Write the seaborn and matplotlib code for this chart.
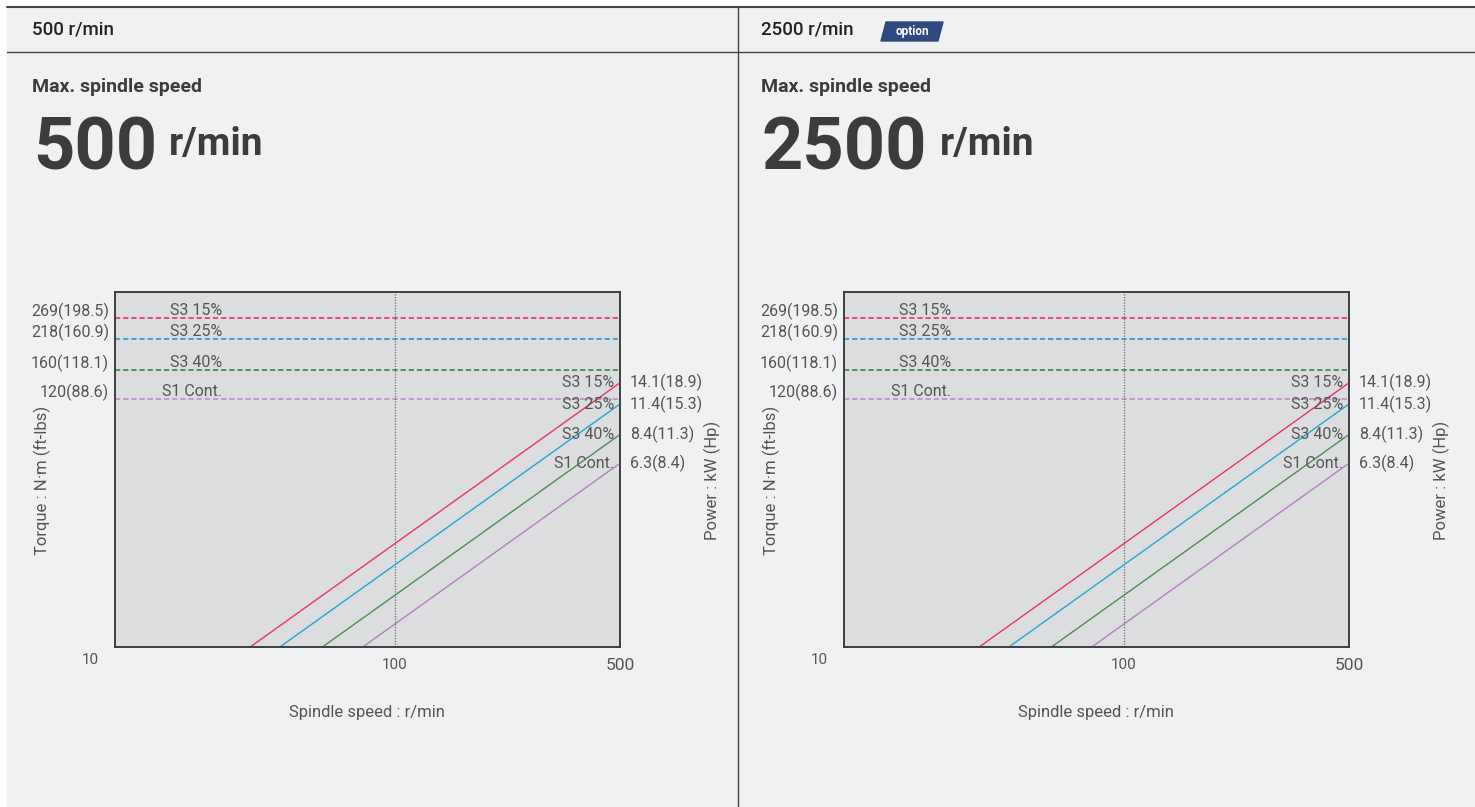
import numpy as np
import pandas as pd
import seaborn as sns
import matplotlib.pyplot as plt
from matplotlib.patches import Polygon, Rectangle

sns.set_theme(style="white")
plt.rcParams['font.family'] = ['Roboto', 'DejaVu Sans']

# datos del grafico
duty = ['S3 15%', 'S3 25%', 'S3 40%', 'S1 Cont.']
torque_nm = [269, 218, 160, 120]
torque_lbs = [198.5, 160.9, 118.1, 88.6]
power_kw = [14.1, 11.4, 8.4, 6.3]
power_hp = [18.9, 15.3, 11.3, 8.4]
power_start_rpm = [35.5, 43.9, 59.5, 79.4]  # velocidad donde cada linea entra a 1 kW
power_start_kw = [1.0, 1.0, 1.0, 1.0]
max_rpm = 500
panel_speeds = ['500', '2500']
panel_option = [False, True]

line_colors = ['#e8326f', '#25a4dc', '#4b8d50', '#b47fc2']
dash_colors = ['#ea3479', '#2a9bd2', '#3f8a4a', '#c08fc6']
bg_color = '#f0f1f3'
plot_color = '#dcdddf'
txt = '#555555'

W, H = 1475, 807
fig = plt.figure(figsize=(W / 100, H / 100), dpi=100, facecolor='white')

# fondo y marcos en coordenadas de pixel
bg = fig.add_axes([0, 0, 1, 1])
bg.set_xlim(0, W)
bg.set_ylim(H, 0)
bg.axis('off')
bg.add_patch(Rectangle((7, 7), W - 7, H - 7, color=bg_color, zorder=0))
bg.plot([7, W], [7, 7], color='#444444', lw=1.5)
bg.plot([7, W], [52, 52], color='#444444', lw=1)
bg.plot([738, 738], [7, H], color='#444444', lw=1)

# tabla de potencia (dos puntos por curva)
df = pd.DataFrame({
    'speed': power_start_rpm + [max_rpm] * len(duty),
    'power': power_start_kw + power_kw,
    'duty': duty + duty,
})


def draw_panel(dx, speed_text, option):
    # encabezado
    bg.text(32 + dx, 30, f'{speed_text} r/min', fontsize=13.5, fontweight='medium',
            color='#222222', va='center', ha='left')
    if option:
        x0 = 32 + dx + 120
        bg.add_patch(Polygon([(x0, 41), (x0 + 5, 22), (x0 + 62, 22), (x0 + 57, 41)],
                             closed=True, color='#2e4a7e', zorder=3))
        bg.text(x0 + 31, 31.5, 'option', color='white', fontsize=8.5, fontweight='bold',
                ha='center', va='center', zorder=4)
    bg.text(32 + dx, 87, 'Max. spindle speed', fontsize=14, fontweight='bold',
            color='#3c3c3c', va='center')
    big = bg.text(33 + dx, 170, speed_text, fontsize=52, fontweight='bold',
                  color='#3c3c3c', va='baseline')
    fig.canvas.draw()
    bb = big.get_window_extent()
    bg.text(bb.x1 + 12, 155, 'r/min', fontsize=28, fontweight='bold',
            color='#3c3c3c', va='baseline')

    # grafico par / potencia
    ax = fig.add_axes([(115 + dx) / W, (H - 647) / H, 505 / W, 355 / H])
    ax.set_facecolor(plot_color)
    ax.set_xscale('log')
    ax.set_yscale('log')
    ax.hlines(torque_nm, 13.5, max_rpm, colors=dash_colors, linestyles=(0, (3, 1.7)), lw=1.25)
    ax.axvline(100, color='#6a6a6a', ls=(0, (1, 1.2)), lw=0.9)

    ax2 = ax.twinx()
    ax2.set_yscale('log')
    sns.lineplot(data=df, x='speed', y='power', hue='duty', hue_order=duty,
                 palette=dict(zip(duty, line_colors)), ax=ax2, legend=False,
                 linewidth=1, sort=False)
    ax.set_xlim(13.5, max_rpm)
    ax.set_ylim(10, 350)
    ax2.set_ylim(1, 35)

    for a in (ax, ax2):
        a.minorticks_off()
        a.set_yticks([])
        a.set_xlabel('')
        a.set_ylabel('')
        for s in a.spines.values():
            s.set_color('#3a3a3a')
            s.set_linewidth(1.1)
    ax.set_xticks([100, max_rpm])
    ax.set_xticklabels(['100', '500'])
    ax.tick_params(axis='x', length=0, pad=8, labelcolor=txt)
    ax.get_xticklabels()[0].set_fontsize(11)
    ax.get_xticklabels()[1].set_fontsize(12.5)

    for name, t, tl in zip(duty, torque_nm, torque_lbs):
        ax.annotate(f'{t}({tl})', xy=(0, t), xycoords=('axes fraction', 'data'),
                    xytext=(-4.3, 5), textcoords='offset points',
                    ha='right', va='center', fontsize=11.5, color=txt)
        ax.annotate(name, xy=(0.212, t), xycoords=('axes fraction', 'data'),
                    xytext=(0, 5.5), textcoords='offset points',
                    ha='right', va='center', fontsize=11.5, color=txt)
    for name, p, hp in zip(duty, power_kw, power_hp):
        ax2.annotate(name, xy=(1, p), xycoords=('axes fraction', 'data'),
                     xytext=(-4.3, 0), textcoords='offset points',
                     ha='right', va='center', fontsize=11.5, color=txt)
        ax2.annotate(f'{p}({hp})', xy=(1, p), xycoords=('axes fraction', 'data'),
                     xytext=(7, 0), textcoords='offset points',
                     ha='left', va='center', fontsize=11.5, color=txt)

    bg.text(90 + dx, 660, '10', fontsize=11, color=txt, ha='center', va='center')
    bg.text(367 + dx, 713, 'Spindle speed : r/min', fontsize=12, color=txt,
            ha='center', va='center')
    bg.text(42 + dx, 480, 'Torque : N·m (ft-lbs)', fontsize=12, color=txt,
            ha='center', va='center', rotation=90)
    bg.text(712 + dx, 480, 'Power : kW (Hp)', fontsize=12, color=txt,
            ha='center', va='center', rotation=90)


for i, (sp, opt) in enumerate(zip(panel_speeds, panel_option)):
    draw_panel(729 * i, sp, opt)

plt.savefig('out.png', dpi=100, facecolor=fig.get_facecolor())
